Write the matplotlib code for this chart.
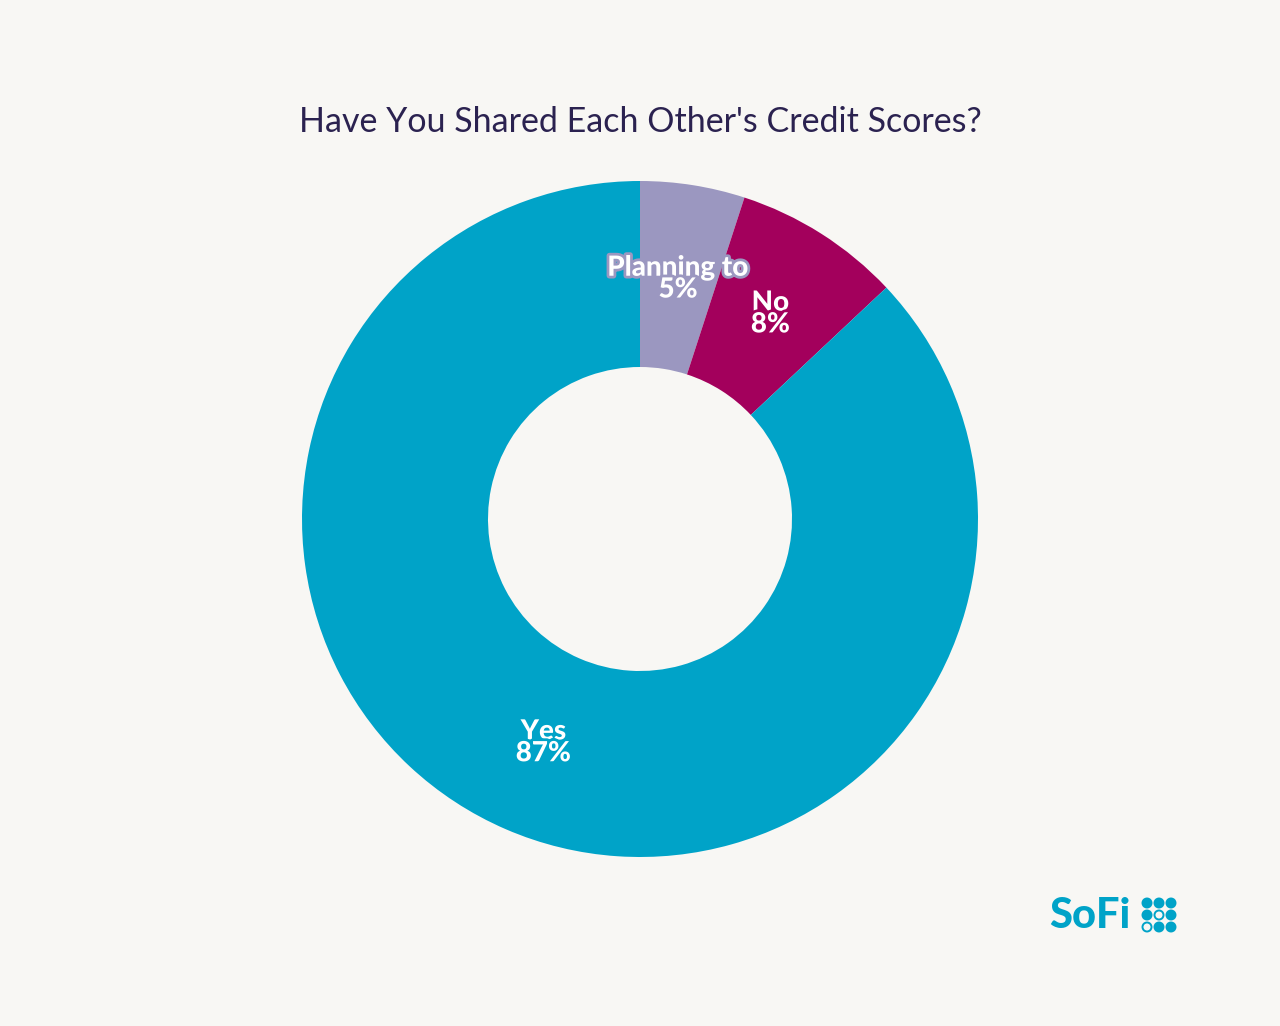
import matplotlib
matplotlib.use("Agg")
import matplotlib.pyplot as plt
import matplotlib.patheffects as pe
from matplotlib.patches import Ellipse

labels = ["Planning to", "No", "Yes"]
values = [5, 8, 87]
colors = ["#9b97c0", "#a3005c", "#00a3c8"]
title = "Have You Shared Each Other's Credit Scores?"

bg = "#f8f7f4"
fig = plt.figure(figsize=(12.8, 10.26), dpi=100, facecolor=bg)
W, H = 1280, 1026
cx, cy, R = 640, 519, 338
ax = fig.add_axes([(cx - R) / W, (H - cy - R) / H, 2 * R / W, 2 * R / H])
ax.set_facecolor(bg)
wedges, texts = ax.pie(values, colors=colors, startangle=90, counterclock=False,
                       radius=1, wedgeprops=dict(width=1 - 152 / 338, linewidth=0),
                       labels=[f"{l}\n{v}%" for l, v in zip(labels, values)],
                       labeldistance=0.72)
for t, c in zip(texts, colors):
    t.set_ha("center"); t.set_va("center")
    t.set_color("white"); t.set_fontsize(20); t.set_fontweight("black")
    t.set_family("Lato")
    t.set_linespacing(0.8)
    t.set_path_effects([pe.withStroke(linewidth=4, foreground=c)])
ax.set_xlim(-1, 1); ax.set_ylim(-1, 1); ax.set_aspect("equal"); ax.axis("off")

fig.text(640 / W, 1 - 122 / H, title, ha="center", va="center", fontsize=24.5,
         color="#2b2250", family="Lato")

fig.text(1090 / W, 1 - 916 / H, "SoFi", ha="center", va="center", fontsize=30,
         fontweight="black", color="#00a3c8", family="Lato")
for i in range(3):
    for j in range(3):
        x = 1147 + j * 12
        y = 903 + i * 12
        filled = not (i == 1 and j == 1) and not (i == 2 and j == 0)
        fig.patches.append(Ellipse((x / W, 1 - y / H), 9 / W, 9 / H, transform=fig.transFigure,
                                   facecolor="#00a3c8" if filled else "none",
                                   edgecolor="#00a3c8", linewidth=1.4))

fig.savefig("out.png", dpi=100, facecolor=bg)
